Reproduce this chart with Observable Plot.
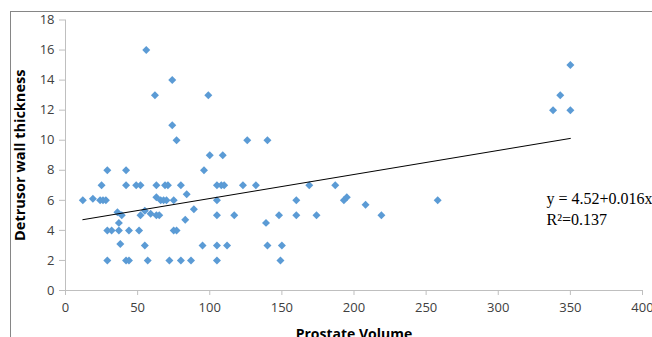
<!DOCTYPE html>
<html><head><meta charset="utf-8">
<script src="https://cdn.jsdelivr.net/npm/d3@7"></script>
<script src="https://cdn.jsdelivr.net/npm/@observablehq/plot@0.6"></script>
<style>
html,body{margin:0;padding:0;background:#fff;overflow:hidden}
#wrap{position:relative;width:652px;height:337px;overflow:hidden}
#frame{position:absolute;left:10px;top:11px;width:700px;height:400px;border-left:1px solid #868686;border-top:1px solid #868686;}
#chart{position:absolute;left:0;top:0;}
</style></head>
<body><div id="wrap"><div id="frame"></div><div id="chart"></div></div>
<script>
const volume = [12,19,25,24,26,28,29,29,29,32,36,37,37,38,39,42,42,42,44,44,49,52,52,51,55,56,55,57,59,62,63,63,63,65,66,68,69,71,70,72,74,74,75,75,77,77,80,80,84,83,87,89,95,96,99,100,105,108,110,105,105,105,105,109,112,117,123,126,132,139,140,140,148,149,150,160,160,169,174,187,193,195,208,219,258,338,343,350,350];
const thickness = [6,6.1,7,6,6,6,8,2,4,4,5.2,4.5,4,3.1,5,7,8,2,2,4,7,7,5,4,3,16,5.3,2,5.1,13,7,6.2,5,5,6,6,7,7,6,2,14,11,6,4,4,10,7,2,6.4,4.7,2,5.4,3,8,13,9,7,7,7,6,5,3,2,9,3,5,7,10,7,4.5,10,3,5,2,3,6,5,7,5,7,6,6.2,5.7,5,6,12,13,15,12];
const xTicks = [0,50,100,150,200,250,300,350,400];
const yTicks = [0,2,4,6,8,10,12,14,16,18];
const intercept = 4.52, slope = 0.016, r2 = 0.137;
const xTitle = "Prostate Volume";
const yTitle = "Detrusor wall thickness";
const eqLabel = "y = 4.52+0.016x\nR\u00b2=0.137";

const data = volume.map((v, i) => ({volume: v, thickness: thickness[i]}));
const xMin = d3.min(volume), xMax = d3.max(volume);
const fit = [xMin, xMax].map(v => ({volume: v, thickness: intercept + slope * v}));

const chart = Plot.plot({
  width: 652, height: 337,
  marginLeft: 65, marginRight: 10, marginTop: 19.5, marginBottom: 47,
  x: {domain: [0, 400]},
  y: {domain: [0, 18]},
  style: {fontFamily: "'Open Sans', sans-serif", fontSize: "13px", color: "#404040", background: "transparent", overflow: "visible"},
  marks: [
    Plot.ruleX([0], {stroke: "#bfbfbf"}),
    Plot.ruleY([0], {stroke: "#bfbfbf"}),
    Plot.axisX({ticks: xTicks, tickSize: 5, tickPadding: 7, stroke: "#bfbfbf", fill: "#404040", label: null, tickFormat: d => d}),
    Plot.axisY({ticks: yTicks, tickSize: 6, tickPadding: 5, stroke: "#bfbfbf", fill: "#404040", label: null, tickFormat: d => d}),
    Plot.dot(data, {x: "volume", y: "thickness", symbol: "diamond2", r: 3.6, fill: "#5b9bd5", stroke: "none"}),
    Plot.line(fit, {x: "volume", y: "thickness", stroke: "#000", strokeWidth: 1}),
    Plot.text([eqLabel], {frameAnchor: "right", textAnchor: "start", lineAnchor: "top", dx: -96, dy: 34.6, lineHeight: 1.27, fontFamily: "'Liberation Serif', 'Times New Roman', serif", fontSize: 16, fill: "#000"}),
    Plot.text([yTitle], {frameAnchor: "left", textAnchor: "middle", rotate: -90, dx: -45, fontWeight: "bold", fontSize: 14.5, fill: "#000"}),
    Plot.text([xTitle], {frameAnchor: "bottom", lineAnchor: "top", dy: 38.3, fontWeight: "bold", fontSize: 14, fill: "#000"})
  ]
});
document.getElementById("chart").appendChild(chart);
</script>
</body></html>
